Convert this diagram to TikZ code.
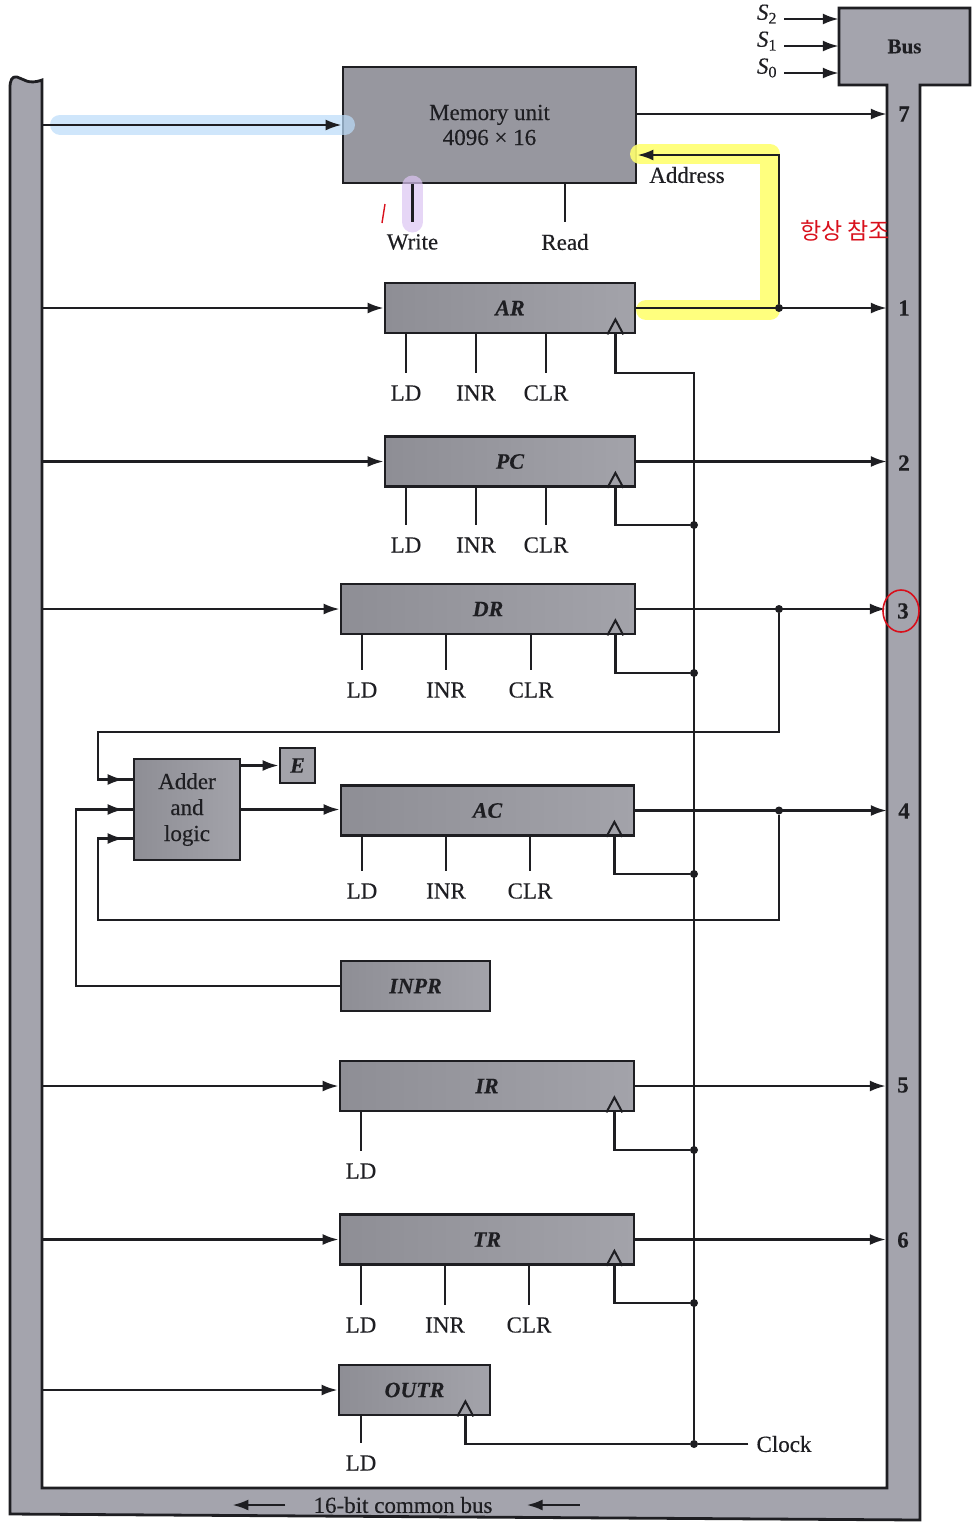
\documentclass[tikz,border=0pt]{standalone}
\usepackage{fontspec}
\setmainfont{Liberation Serif}[FakeBold=0.3]
\newfontfamily\krfont{Noto Sans CJK KR}
\usepackage{xcolor}
\usepackage{tikz}
\usetikzlibrary{positioning,arrows.meta,calc,shapes.geometric}
\definecolor{inkline}{HTML}{1E1E22}
\definecolor{busgray}{HTML}{A4A4AD}
\definecolor{regdark}{HTML}{8E8E95}
\definecolor{reglight}{HTML}{A3A3AA}
\definecolor{markyellow}{HTML}{FFFF70}
\definecolor{markblue}{HTML}{BBDCFA}
\definecolor{markpurple}{HTML}{DCC4F2}
\definecolor{penred}{HTML}{D8101C}

\begin{document}
\begin{tikzpicture}[
    x=1pt, y=-1pt,
    every node/.style={font=\fontsize{23}{25}\selectfont, text=inkline},
    regbox/.style={draw=inkline, line width=2.8pt, left color=regdark, right color=reglight, inner sep=0pt, minimum height=50pt, font=\fontsize{22}{25}\selectfont\bfseries\itshape},
    membox/.style={regbox, left color=busgray!92!black, right color=busgray!92!black, font=\fontsize{23}{25}\selectfont, align=center},
    ctl/.style={inner sep=0pt, minimum height=40pt},
    port/.style={inner sep=0pt, minimum width=34pt, minimum height=24pt, font=\fontsize{23}{25}\selectfont\bfseries},
    wire/.style={draw=inkline, line width=2.4pt},
    arr/.style={wire, -{Latex[length=16pt,width=11pt]}},
    midarr/.style={arr, shorten >=9pt},
    dot/.style={circle, fill=inkline, inner sep=0pt, minimum size=8pt},
    clktri/.style={draw=inkline, line width=2pt, line join=miter},
    marker/.style={line cap=round, line join=round, opacity=.7}
]
    \useasboundingbox (0,0) rectangle (978,1527);

    % common bus
    \draw[draw=inkline, line width=2.8pt, fill=busgray]
        (10,88) .. controls (10,80) and (12,76) .. (17,77) .. controls (24,79) and (28,85) .. (42,80)
        -- (42,1488) -- (887,1488) -- (887,85) -- (839,85) -- (839,8) -- (970,8) -- (970,85)
        -- (920,85) -- (920,1520) -- (10,1514) -- cycle;
    \node[inner sep=0pt, minimum width=131pt, minimum height=77pt, font=\fontsize{21}{25}\selectfont\bfseries] (bus) at (904.5,46.5) {Bus};
    \node[inner sep=0pt] (s2) at (767,14) {\textit{S}\textsubscript{2}};
    \node[inner sep=0pt] (s1) at (767,41) {\textit{S}\textsubscript{1}};
    \node[inner sep=0pt] (s0) at (767,68) {\textit{S}\textsubscript{0}};
    \node[inner sep=0pt] (buslabel) at (403,1505) {16-bit common bus};
    \coordinate (lbus) at (42,0);

    % registers
    \node[membox, minimum width=293pt, minimum height=116pt] (mem) at (489.5,125) {Memory unit\\4096 × 16};
    \node[regbox, minimum width=250pt] (ar) at (510,308) {AR};
    \node[regbox, minimum width=250pt] (pc) at (510,461.5) {PC};
    \node[regbox, minimum width=294pt] (dr) at (488,609) {DR};
    \node[regbox, minimum width=293pt] (ac) at (487.5,810.5) {AC};
    \node[regbox, minimum width=149pt] (inpr) at (415.5,986) {INPR};
    \node[regbox, minimum width=294pt] (ir) at (487,1086) {IR};
    \node[regbox, minimum width=294pt] (tr) at (487,1239.5) {TR};
    \node[regbox, minimum width=151pt] (outr) at (414.5,1390) {OUTR};
    \node[regbox, minimum width=106pt, minimum height=101pt, align=center, font=\fontsize{23}{26}\selectfont] (add) at (187,809.5) {Adder\\and\\logic};
    \node[regbox, minimum width=35pt, minimum height=35pt, left color=reglight] (e) at (297.5,765.5) {E};

    % highlights
    \draw[marker, markyellow, line width=20pt, opacity=.9] (640,154) -- (770,154) -- (770,310) -- (646,310);
    \draw[marker, markblue, line width=20pt] (60,124.5) -- (345,124.5);
    \draw[marker, markpurple, line width=21pt] (412.5,186) -- (412.5,222);

    % bus numbers
    \node[port] (p7) at (904,114) {7};
    \node[port] (p1) at (904,308) {1};
    \node[port] (p2) at (904,463) {2};
    \node[port] (p3) at (903,611) {3};
    \node[port] (p4) at (904,811) {4};
    \node[port] (p5) at (903,1085) {5};
    \node[port] (p6) at (903,1240) {6};

    % selection inputs
    \draw[arr] ([yshift=-5pt]s2.east) ++(7,0) -- ([yshift=-5pt]s2.east -| bus.west);
    \draw[arr] ([yshift=-5pt]s1.east) ++(7,0) -- ([yshift=-5pt]s1.east -| bus.west);
    \draw[arr] ([yshift=-5pt]s0.east) ++(7,0) -- ([yshift=-5pt]s0.east -| bus.west);

    % bus to registers
    \foreach \r in {mem,ar,pc,dr,ir,tr,outr}
        \draw[arr] (\r.west -| lbus) -- (\r.west);

    % registers to bus
    \draw[arr] ([yshift=11pt]mem.east) -- (p7.west);
    \draw[arr] (ar.east) -- (ar.east -| p1.west);
    \draw[arr] (pc.east) -- (pc.east -| p2.west);
    \draw[arr] (dr.east) -- (dr.east -| p3.west);
    \draw[arr] (ac.east) -- (ac.east -| p4.west);
    \draw[arr] (ir.east) -- (ir.east -| p5.west);
    \draw[arr] (tr.east) -- (tr.east -| p6.west);

    % memory controls
    \node[ctl] (write) at (412.5,242) {Write};
    \node[ctl] (read) at (565,242) {Read};
    \draw[wire] (write.north) -- (write.north |- mem.south);
    \draw[wire] (read.north) -- (read.north |- mem.south);

    % address path
    \node[dot] (jar) at (ar.east -| 779,0) {};
    \draw[arr] (jar) |- ([yshift=-30pt]mem.east);
    \node[inner sep=0pt] (address) at (687,175) {Address};

    % register controls
    \foreach \r/\a/\b/\c/\y in {ar/406/476/546/393, pc/406/476/546/545, dr/362/446/531/690, ac/362/446/530/891, tr/361/445/529/1325} {
        \node[ctl] (\r-ld) at (\a,\y) {LD};
        \node[ctl] (\r-inr) at (\b,\y) {INR};
        \node[ctl] (\r-clr) at (\c,\y) {CLR};
        \draw[wire] (\r-ld.north) -- (\r-ld.north |- \r.south);
        \draw[wire] (\r-inr.north) -- (\r-inr.north |- \r.south);
        \draw[wire] (\r-clr.north) -- (\r-clr.north |- \r.south);
    }
    \node[ctl] (ir-ld) at (361,1171) {LD};
    \node[ctl] (outr-ld) at (361,1463) {LD};
    \draw[wire] (ir-ld.north) -- (ir-ld.north |- ir.south);
    \draw[wire] (outr-ld.north) -- (outr-ld.north |- outr.south);

    % clock
    \node[inner sep=0pt] (clock) at (784,1444) {Clock};
    \node[dot] (jclock) at (694,1444) {};
    \coordinate (ckbus) at (694,0);
    \foreach \r/\s in {ar/21,pc/21,dr/21,ac/21,ir/21,tr/21,outr/26} {
        \coordinate (\r-clk) at ($(\r.south east)+(-\s,0)$);
        \draw[clktri] ($(\r-clk)+(-8,0)$) -- ($(\r-clk)+(0,-15)$) -- ($(\r-clk)+(8,0)$);
    }
    \foreach \r/\y in {pc/525,dr/673,ac/874,ir/1150,tr/1303} {
        \node[dot] (j\r) at (694,\y) {};
        \draw[wire] (\r-clk) |- (j\r);
    }
    \coordinate (cktop) at (694,373);
    \draw[wire] (ar-clk) |- (cktop) -- (jclock);
    \draw[wire] (clock.west) ++(-8,0) -- (jclock) -| (outr-clk);

    % adder connections
    \coordinate (fbtop) at (98,732);
    \coordinate (fbbot) at (98,920);
    \coordinate (inprin) at (76,986);
    \node[dot] (jdr) at (dr.east -| 779,0) {};
    \node[dot] (jac) at (ac.east -| 779,0) {};
    \draw[wire] (jdr) |- (fbtop) |- ([yshift=30pt]add.west);
    \draw[midarr] ([yshift=30pt]add.west -| fbtop) -- ([yshift=30pt]add.west);
    \draw[wire] (jac) |- (fbbot) |- ([yshift=-29pt]add.west);
    \draw[midarr] ([yshift=-29pt]add.west -| fbbot) -- ([yshift=-29pt]add.west);
    \draw[wire] (inpr.west) -- (inprin) |- (add.west);
    \draw[midarr] (add.west -| inprin) -- (add.west);
    \draw[arr] (add.east |- e.west) -- (e.west);
    \draw[arr] (add.east) -- (add.east -| ac.west);

    % bus direction
    \draw[arr] ([xshift=-28pt]buslabel.west) -- ([xshift=-81pt]buslabel.west);
    \draw[arr] ([xshift=87pt]buslabel.east) -- ([xshift=34pt]buslabel.east);

    % pen notes
    \node[font=\krfont\fontsize{23}{25}\selectfont, text=penred, inner sep=0pt] (note) at (845,231) {항상 참조};
    \node[draw=penred, line width=1.6pt, ellipse, inner sep=0pt, minimum width=36pt, minimum height=42pt] (ring) at (901,611) {};
    \draw[penred, line width=1.4pt] (385,204) -- (382,223);
\end{tikzpicture}
\end{document}
